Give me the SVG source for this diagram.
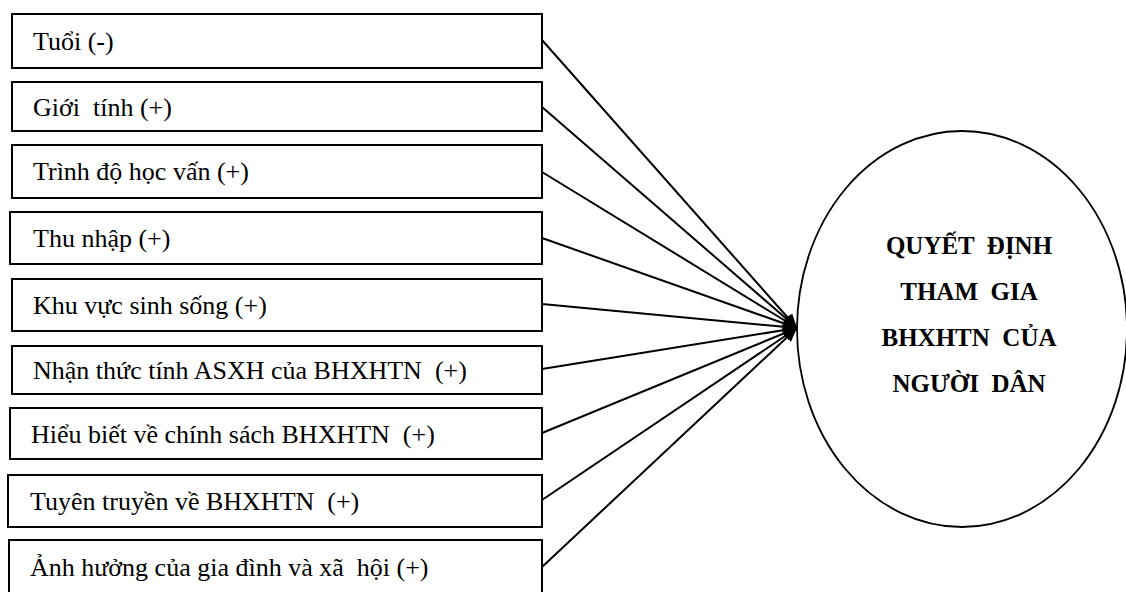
<svg xmlns="http://www.w3.org/2000/svg" width="1126" height="592" viewBox="0 0 1126 592">
<style>
.box{fill:#fff;stroke:#000;stroke-width:2}
.lbl{font-family:'Liberation Serif','Tinos','DejaVu Serif','Noto Serif',serif;font-size:26px;fill:#000;white-space:pre}
.out{font-family:'Liberation Serif','Tinos','DejaVu Serif','Noto Serif',serif;font-size:25px;font-weight:bold;fill:#000;white-space:pre;text-anchor:middle}
.con{stroke:#000;stroke-width:2;fill:none;marker-end:url(#ah)}
</style>
<defs>
<marker id="ah" markerUnits="userSpaceOnUse" markerWidth="14" markerHeight="12" refX="14" refY="6" orient="auto">
<path d="M0,0 L14,6 L0,12 z" fill="#000"/>
</marker>
</defs>
<rect width="1126" height="592" fill="#fff"/>
<g id="n1"><rect class="box" x="12" y="14" width="530" height="54"/><text class="lbl" x="33" y="50">Tuổi (-)</text></g>
<g id="n2"><rect class="box" x="12" y="82" width="530" height="49"/><text class="lbl" x="33" y="116">Giới  tính (+)</text></g>
<g id="n3"><rect class="box" x="12" y="145" width="530" height="53"/><text class="lbl" x="33" y="180">Trình độ học vấn (+)</text></g>
<g id="n4"><rect class="box" x="10" y="212" width="532" height="52"/><text class="lbl" x="33" y="247">Thu nhập (+)</text></g>
<g id="n5"><rect class="box" x="12" y="279" width="530" height="52"/><text class="lbl" x="33" y="314">Khu vực sinh sống (+)</text></g>
<g id="n6"><rect class="box" x="12" y="346" width="530" height="48"/><text class="lbl" x="33" y="379">Nhận thức tính ASXH của BHXHTN  (+)</text></g>
<g id="n7"><rect class="box" x="10" y="408" width="532" height="51"/><text class="lbl" x="31" y="443">Hiểu biết về chính sách BHXHTN  (+)</text></g>
<g id="n8"><rect class="box" x="8" y="475" width="534" height="52"/><text class="lbl" x="30" y="510">Tuyên truyền về BHXHTN  (+)</text></g>
<g id="n9"><rect class="box" x="9" y="540" width="533" height="56"/><text class="lbl" x="30" y="576">Ảnh hưởng của gia đình và xã  hội (+)</text></g>
<g id="target"><ellipse cx="962" cy="329" rx="165" ry="198" fill="#fff" stroke="#000" stroke-width="1.8"/>
<text class="out" x="969" y="254">QUYẾT  ĐỊNH</text>
<text class="out" x="969" y="300">THAM  GIA</text>
<text class="out" x="969" y="346">BHXHTN  CỦA</text>
<text class="out" x="969" y="392">NGƯỜI  DÂN</text>
</g>
<g id="connectors">
<line class="con" x1="542" y1="40" x2="797" y2="328"/>
<line class="con" x1="542" y1="107" x2="797" y2="328"/>
<line class="con" x1="542" y1="172" x2="797" y2="328"/>
<line class="con" x1="542" y1="238" x2="797" y2="328"/>
<line class="con" x1="542" y1="304" x2="797" y2="328"/>
<line class="con" x1="542" y1="369" x2="797" y2="328"/>
<line class="con" x1="542" y1="433" x2="797" y2="328"/>
<line class="con" x1="542" y1="500" x2="797" y2="328"/>
<line class="con" x1="542" y1="567" x2="797" y2="328"/>
</g>
</svg>
